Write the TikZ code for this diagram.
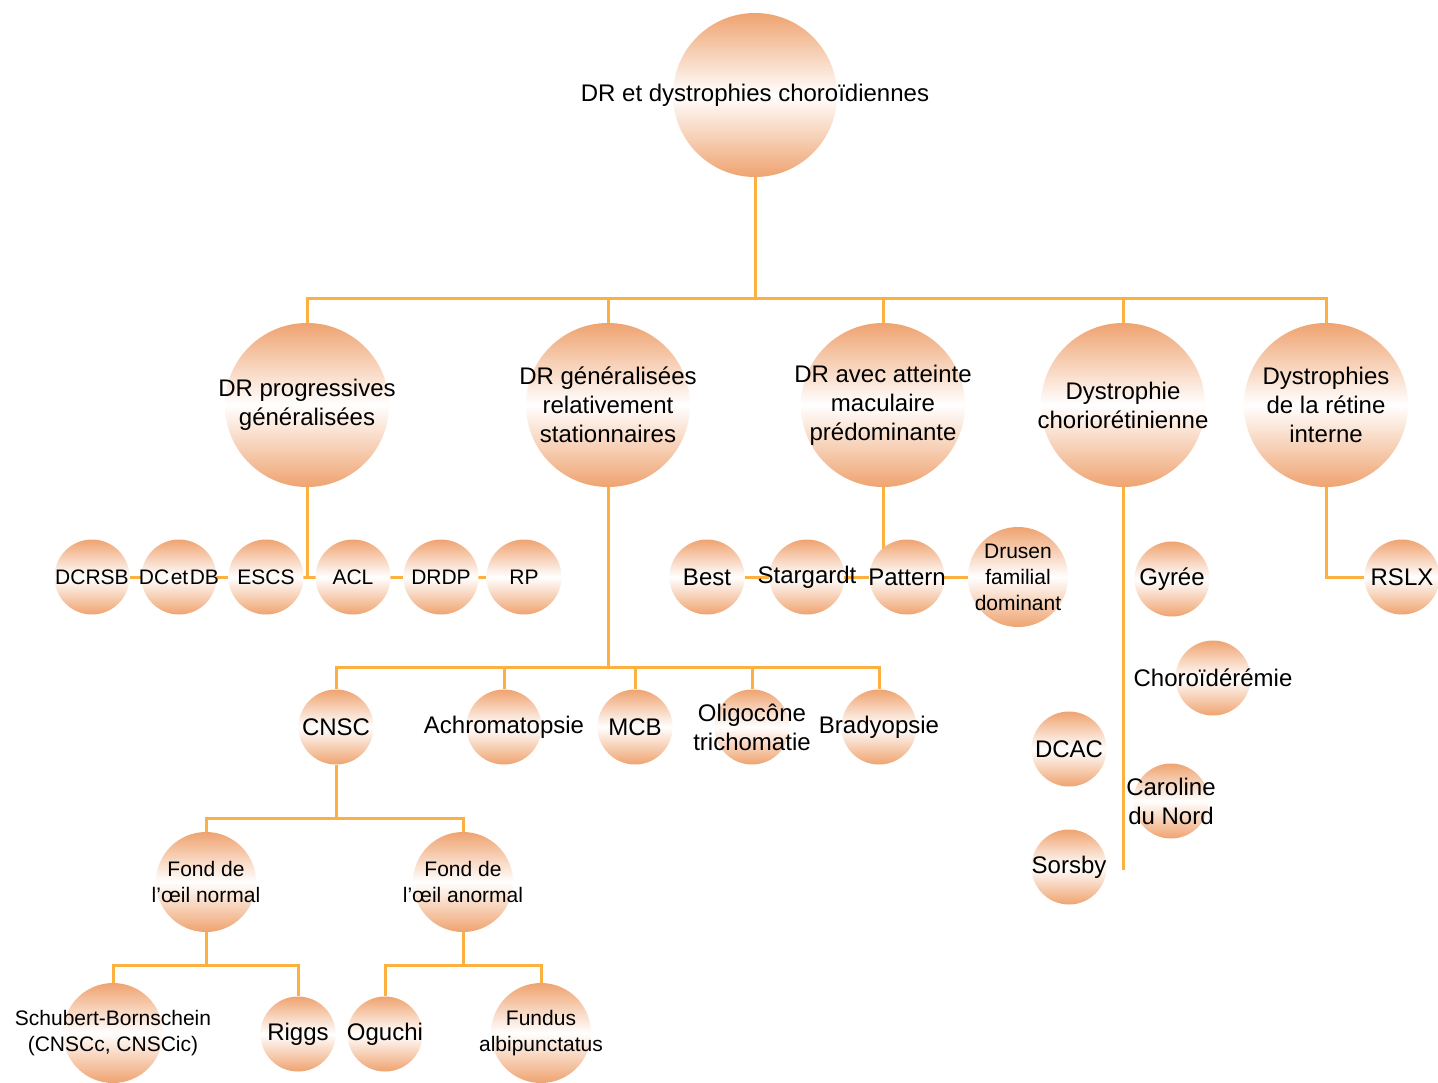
\documentclass[tikz,border=0pt]{standalone}
\usepackage{fontspec}
\setmainfont{Liberation Sans}
\usetikzlibrary{backgrounds}
\definecolor{bubc}{RGB}{239,163,112}
\definecolor{linec}{RGB}{251,176,64}
\tikzset{
  bub/.style={circle, minimum size=#1, inner sep=0pt, draw=none,
    top color=bubc, bottom color=bubc, middle color=white},
  big/.style={font=\fontsize{24}{29}\selectfont, align=center, inner sep=0pt, text=black},
  sml/.style={font=\fontsize{21}{26}\selectfont, align=center, inner sep=0pt, text=black},
  conn/.style={draw=linec, line width=3pt},
}
\begin{document}
\begin{tikzpicture}[x=1pt,y=-1pt]
\useasboundingbox (0,0) rectangle (1438,1082);
% root
\node[bub=164pt, label={[big]center:DR et dystrophies choroïdiennes}] (root) at (755,95) {};
% level 1
\node[bub=164pt, label={[big]center:{DR progressives\\généralisées}}] (prog) at (307,405) {};
\node[bub=164pt, label={[big]center:{DR généralisées\\relativement\\stationnaires}}] (gen) at (608,405) {};
\node[bub=164pt, label={[big]center:{DR avec atteinte\\maculaire\\prédominante}}] (mac) at (883,405) {};
\node[bub=164pt, label={[big]center:{Dystrophie\\choriorétinienne}}] (chor) at (1123,405) {};
\node[bub=164pt, label={[big]center:{Dystrophies\\de la rétine\\interne}}] (int) at (1326,405) {};
% row under DR progressives
\node[bub=75pt, label={[sml]center:DCRSB}] (dcrsb) at (92,577) {};
\node[bub=75pt, label={[sml]center:{DC\kern1.5pt et\kern1.5pt DB}}] (dcdb) at (179,577) {};
\node[bub=75pt, label={[sml]center:ESCS}] (escs) at (266,577) {};
\node[bub=75pt, label={[sml]center:ACL}] (acl) at (353,577) {};
\node[bub=75pt, label={[sml]center:DRDP}] (drdp) at (441,577) {};
\node[bub=75pt, label={[sml]center:RP}] (rp) at (524,577) {};
% row under DR avec atteinte maculaire
\node[bub=75pt, label={[big]center:Best}] (best) at (707,577) {};
\node[bub=75pt, label={[big]center:Stargardt}] (starg) at (807,577) {};
\node[bub=75pt, label={[big]center:Pattern}] (patt) at (907,577) {};
\node[bub=100pt, label={[sml]center:{Drusen\\familial\\dominant}}] (drusen) at (1018,577) {};
% dystrophie choriorétinienne (free-floating)
\node[bub=75pt, label={[big]center:Gyrée}] (gyree) at (1172,579) {};
\node[bub=75pt, label={[big]center:Choroïdérémie}] (choro) at (1213,678) {};
\node[bub=75pt, label={[big]center:DCAC}] (dcac) at (1069,749) {};
\node[bub=75pt, label={[big]center:{Caroline\\du Nord}}] (carol) at (1171,801) {};
\node[bub=75pt, label={[big]center:Sorsby}] (sorsby) at (1069,867) {};
\coordinate (chorEnd) at (1123,870);
% rétine interne
\node[bub=75pt, label={[big]center:RSLX}] (rslx) at (1402,577) {};
% level 3
\node[bub=75pt, label={[big]center:CNSC}] (cnsc) at (336,727) {};
\node[bub=75pt, label={[big]center:Achromatopsie}] (achro) at (504,727) {};
\node[bub=75pt, label={[big]center:MCB}] (mcb) at (635,727) {};
\node[bub=75pt, label={[big]center:{Oligocône\\trichomatie}}] (oligo) at (752,727) {};
\node[bub=75pt, label={[big]center:Bradyopsie}] (brady) at (879,727) {};
% level 4
\node[bub=100pt, label={[sml]center:{Fond de\\l’œil normal}}] (fondn) at (206,882) {};
\node[bub=100pt, label={[sml]center:{Fond de\\l’œil anormal}}] (fonda) at (463,882) {};
% level 5
\node[bub=100pt, label={[sml]center:{Schubert-Bornschein\\(CNSCc, CNSCic)}}] (schub) at (113,1033) {};
\node[bub=75pt, label={[big]center:Riggs}] (riggs) at (298,1034) {};
\node[bub=75pt, label={[big]center:Oguchi}] (oguchi) at (385,1034) {};
\node[bub=100pt, label={[sml]center:{Fundus\\albipunctatus}}] (fundus) at (541,1033) {};
% bus coordinates
\coordinate (b1) at (755,298);
\coordinate (b2) at (608,667);
\coordinate (b3) at (336,818);
\coordinate (b4) at (206,965);
\coordinate (b5) at (463,965);
\begin{scope}[on background layer]
\fill[white] (0,0) rectangle (1438,1082);
\draw[conn] (root) -- (b1);
\draw[conn] (b1) -| (prog);
\draw[conn] (b1) -| (gen);
\draw[conn] (b1) -| (mac);
\draw[conn] (b1) -| (chor);
\draw[conn] (b1) -| (int);
% DR progressives row
\draw[conn] (prog) -- (prog |- acl);
\draw[conn] (dcrsb) -- (rp);
% maculaire row
\draw[conn] (mac) -- (mac |- patt);
\draw[conn] (best) -- (drusen);
% chorioretinienne
\draw[conn] (chor) -- (chorEnd);
% retine interne
\draw[conn] (int) |- (rslx);
% stationnaires
\draw[conn] (gen) -- (b2);
\draw[conn] (b2) -| (cnsc);
\draw[conn] (b2) -| (achro);
\draw[conn] (b2) -| (mcb);
\draw[conn] (b2) -| (oligo);
\draw[conn] (b2) -| (brady);
% CNSC
\draw[conn] (cnsc) -- (b3);
\draw[conn] (b3) -| (fondn);
\draw[conn] (b3) -| (fonda);
\draw[conn] (fondn) -- (b4);
\draw[conn] (b4) -| (schub);
\draw[conn] (b4) -| (riggs);
\draw[conn] (fonda) -- (b5);
\draw[conn] (b5) -| (oguchi);
\draw[conn] (b5) -| (fundus);
\end{scope}
\end{tikzpicture}
\end{document}
